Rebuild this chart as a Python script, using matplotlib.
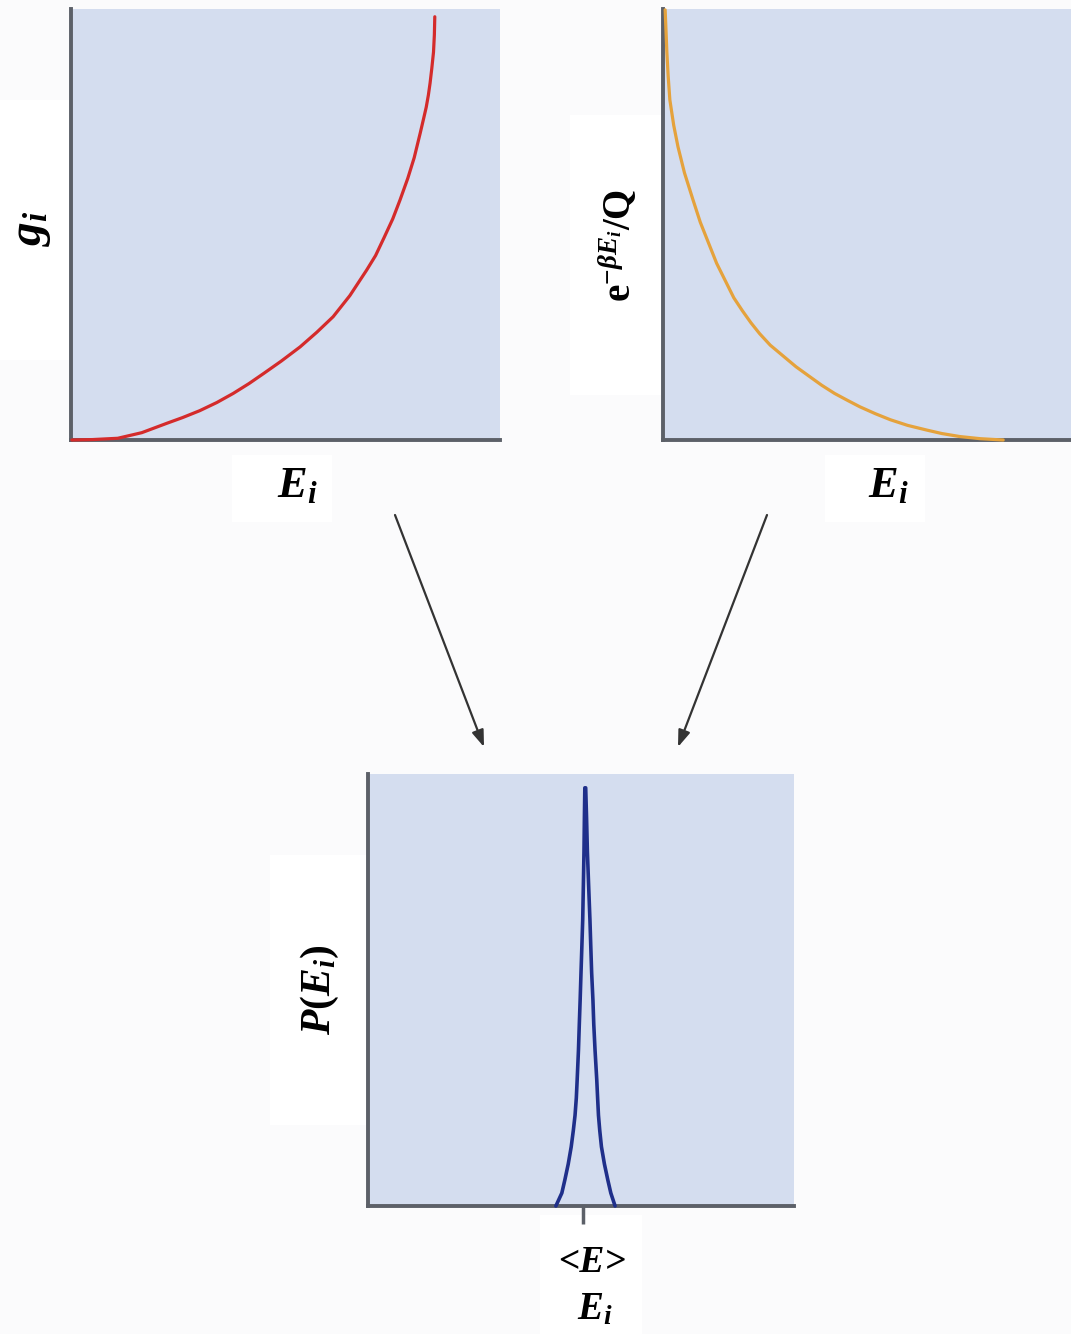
import matplotlib
matplotlib.use("Agg")
import matplotlib.pyplot as plt
from matplotlib.patches import Rectangle, FancyArrowPatch

plt.rcParams['mathtext.fontset'] = 'custom'
plt.rcParams['mathtext.rm'] = 'Liberation Serif:bold'
plt.rcParams['mathtext.it'] = 'Liberation Serif:bold:italic'
plt.rcParams['mathtext.bf'] = 'Liberation Serif:bold'
plt.rcParams['font.family'] = ['Liberation Serif', 'DejaVu Serif']

# ---- data (fractions of each panel's range) ----
g_x = [0.002, 0.05, 0.109, 0.165, 0.224, 0.26, 0.30, 0.34, 0.378, 0.415, 0.45,
       0.49, 0.534, 0.573, 0.611, 0.65, 0.689, 0.71, 0.73, 0.75, 0.767, 0.785,
       0.80, 0.814, 0.822, 0.828, 0.833, 0.837, 0.841, 0.845, 0.847, 0.848]
g_y = [0.0, 0.001, 0.004, 0.017, 0.039, 0.052, 0.068, 0.087, 0.108, 0.131, 0.155,
       0.183, 0.216, 0.25, 0.286, 0.335, 0.394, 0.428, 0.47, 0.513, 0.557, 0.607,
       0.655, 0.712, 0.746, 0.772, 0.80, 0.828, 0.862, 0.90, 0.94, 0.982]

b_x = [0.005, 0.007, 0.009, 0.012, 0.016, 0.025, 0.035, 0.050, 0.070, 0.087,
       0.105, 0.125, 0.148, 0.165, 0.185, 0.205, 0.225, 0.25, 0.28, 0.31, 0.342,
       0.37, 0.40, 0.43, 0.459, 0.495, 0.53, 0.57, 0.615, 0.65, 0.692, 0.74, 0.793]
b_y = [0.998, 0.95, 0.90, 0.845, 0.789, 0.73, 0.68, 0.62, 0.557, 0.505,
       0.46, 0.41, 0.364, 0.33, 0.30, 0.272, 0.247, 0.22, 0.195, 0.17, 0.147,
       0.127, 0.108, 0.092, 0.077, 0.061, 0.047, 0.034, 0.023, 0.015, 0.008, 0.003, 0.0]

p_x = [0.441, 0.448, 0.455, 0.462, 0.470, 0.477, 0.482, 0.486, 0.489, 0.491,
       0.494, 0.496, 0.498, 0.500, 0.502, 0.504, 0.5055, 0.507, 0.508, 0.509,
       0.511, 0.513, 0.515, 0.518, 0.521, 0.523, 0.525, 0.528, 0.530, 0.533,
       0.537, 0.539, 0.541, 0.544, 0.548, 0.555, 0.563, 0.570, 0.575, 0.580]
p_y = [0.0, 0.015, 0.03, 0.060, 0.097, 0.137, 0.175, 0.21, 0.25, 0.292,
       0.36, 0.42, 0.477, 0.54, 0.60, 0.662, 0.74, 0.82, 0.90, 0.968,
       0.968, 0.90, 0.82, 0.74, 0.662, 0.60, 0.54, 0.477, 0.42, 0.36,
       0.292, 0.25, 0.21, 0.175, 0.137, 0.097, 0.060, 0.03, 0.015, 0.0]

mean_E = 0.505
x_label = r'$E_i$'
g_label = r'$g_i$'
boltz_label = r'$\mathrm{e}^{\mathrm{-}\beta E_i}\mathrm{/Q}$'
p_label = r'$P(E_i)$'
mean_label = '<E>'

W, H = 1071, 1334
fig = plt.figure(figsize=(W / 100, H / 100), dpi=100)
fig.patch.set_facecolor('#fbfbfc')

face = '#d4ddef'
spine_c = '#5c6068'

def px_rect(x0, y0, x1, y1):
    return Rectangle((x0 / W, 1 - y1 / H), (x1 - x0) / W, (y1 - y0) / H,
                     transform=fig.transFigure, facecolor='white',
                     edgecolor='none', zorder=-1)

for r in [(0, 100, 70, 360), (232, 455, 332, 522), (570, 115, 662, 395),
          (825, 455, 925, 522), (270, 855, 368, 1125), (540, 1215, 642, 1334)]:
    fig.patches.append(px_rect(*r))

def make_ax(left, top, width, height):
    ax = fig.add_axes([left / W, 1 - (top + height) / H, width / W, height / H])
    ax.set_facecolor(face)
    ax.set_xlim(0, 1)
    ax.set_ylim(0, 1)
    for s in ['top', 'right']:
        ax.spines[s].set_visible(False)
    for s in ['left', 'bottom']:
        ax.spines[s].set_color(spine_c)
        ax.spines[s].set_linewidth(2.8)
    ax.set_xticks([])
    ax.set_yticks([])
    return ax

ax1 = make_ax(71, 9, 429, 431)
ax1.plot(g_x, g_y, color='#d42b2b', lw=2.3, clip_on=False, zorder=5,
         solid_capstyle='round', solid_joinstyle='round')

ax2 = make_ax(663, 9, 429, 431)
ax2.plot(b_x, b_y, color='#e5a23c', lw=2.3, clip_on=False, zorder=5,
         solid_capstyle='round', solid_joinstyle='round')

ax3 = make_ax(368, 774, 426, 432)
ax3.plot(p_x, p_y, color='#1f2f8a', lw=2.6, clip_on=False, zorder=5,
         solid_capstyle='round', solid_joinstyle='round')
ax3.set_xticks([mean_E])
ax3.set_xticklabels([''])
ax3.tick_params(axis='x', length=13, width=2.5, color=spine_c, direction='out')

def ftext(x, y, s, size, rot=0):
    fig.text(x / W, 1 - y / H, s, fontsize=size, rotation=rot,
             ha='center', va='center', color='black')

ftext(32, 228, g_label, 34, rot=90)
ftext(297, 486, x_label, 32)
ftext(619, 245, boltz_label, 28, rot=90)
ftext(888, 486, x_label, 32)
ftext(320, 990, p_label, 30, rot=90)
fig.text(592 / W, 1 - 1262 / H, mean_label, fontsize=27, ha='center',
         va='center', fontweight='bold', fontstyle='italic', color='black')
ftext(595, 1310, x_label, 28)

arrow_kw = dict(arrowstyle='-|>,head_length=0.5,head_width=0.18', color='#333333',
                lw=1.6, shrinkA=0, shrinkB=0)
fig.add_artist(FancyArrowPatch(
    (395 / W, 1 - 515 / H), (484 / W, 1 - 747 / H), transform=fig.transFigure,
    mutation_scale=20, **arrow_kw))
fig.add_artist(FancyArrowPatch(
    (767 / W, 1 - 515 / H), (678 / W, 1 - 747 / H), transform=fig.transFigure,
    mutation_scale=20, **arrow_kw))

fig.savefig('out.png', dpi=100, facecolor=fig.get_facecolor())
